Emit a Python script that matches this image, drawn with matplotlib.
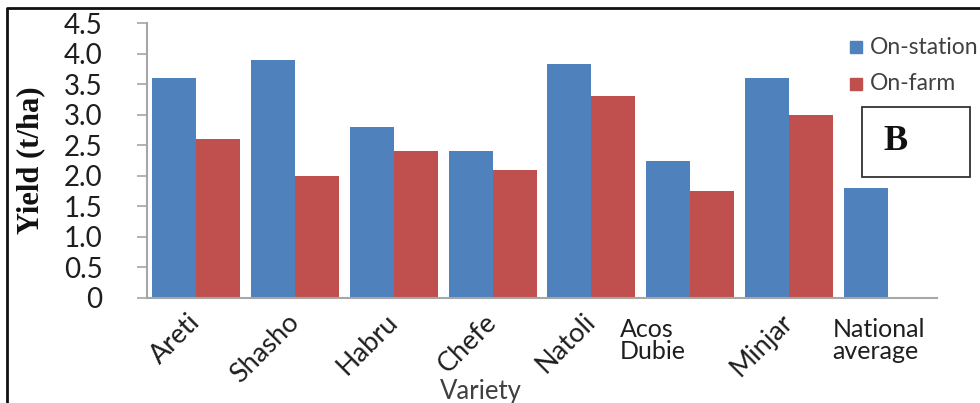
import numpy as np
import matplotlib
matplotlib.use("Agg")
import matplotlib.pyplot as plt
from matplotlib.lines import Line2D
from matplotlib.patches import Rectangle

varieties = ["Areti", "Shasho", "Habru", "Chefe", "Natoli", "Acos\nDubie", "Minjar", "National\naverage"]
rotated = [True, True, True, True, True, False, True, False]
on_station = [3.6, 3.9, 2.8, 2.4, 3.83, 2.25, 3.6, 1.8]
on_farm = [2.6, 2.0, 2.4, 2.1, 3.3, 1.75, 3.0, np.nan]
yticks = [0, 0.5, 1.0, 1.5, 2.0, 2.5, 3.0, 3.5, 4.0, 4.5]
ytick_labels = ["0", "0.5", "1.0", "1.5", "2.0", "2.5", "3.0", "3.5", "4.0", "4.5"]

BLUE = "#4F81BD"
RED = "#C0504D"
TEXT = "#1E1E1E"
AXIS = "#A6A6A6"
SANS = "Lato"
SERIF = "Liberation Serif"

W, H = 980, 403
fig = plt.figure(figsize=(W / 100, H / 100), dpi=100)
ax = fig.add_axes([147 / W, 1 - 298 / H, (937 - 147) / W, (298 - 23) / H])

x = np.arange(len(varieties))
bw = 0.445
ax.bar(x - bw / 2, on_station, width=bw, color=BLUE, label="On-station")
ax.bar(x + bw / 2, on_farm, width=bw, color=RED, label="On-farm")

ax.set_xlim(-0.5, len(varieties) - 0.5)
ax.set_ylim(0, 4.5)
ax.set_yticks(yticks)
ax.set_yticklabels(ytick_labels, fontsize=20, color=TEXT, family=SANS)
ax.tick_params(axis="y", direction="out", length=7, width=1.2, color=AXIS, pad=25)
ax.set_xticks([])
for s in ["top", "right"]:
    ax.spines[s].set_visible(False)
for s in ["left", "bottom"]:
    ax.spines[s].set_color(AXIS)
    ax.spines[s].set_linewidth(1.5)

# category labels: most are slanted, two are stacked horizontally
for i, (name, rot) in enumerate(zip(varieties, rotated)):
    if rot:
        ax.annotate(name, xy=(i, 0), xycoords=("data", "axes fraction"),
                    xytext=(0, -20), textcoords="offset pixels",
                    rotation=45, rotation_mode="anchor", ha="right", va="center",
                    fontsize=19.5, color=TEXT, family=SANS)
    else:
        dx = -70 if i == 5 else -55
        ax.annotate(name, xy=(i, 0), xycoords=("data", "axes fraction"),
                    xytext=(dx, -20), textcoords="offset pixels",
                    ha="left", va="top", multialignment="left",
                    fontsize=18, color=TEXT, family=SANS, linespacing=0.95)

fig.text(481 / W, 1 - 392 / H, "Variety", ha="center", va="center",
         fontsize=18.5, color="#404040", family=SANS)
fig.text(31 / W, 1 - 160 / H, "Yield (t/ha)", rotation=90, ha="center", va="center",
         fontsize=22, fontweight="bold", color="#111111", family=SERIF)

# legend entries
for yy, col, lab in [(47, BLUE, "On-station"), (84, RED, "On-farm")]:
    fig.patches.append(Rectangle((850 / W, 1 - (yy + 6) / H), 12 / W, 12 / H,
                                 transform=fig.transFigure, color=col))
    fig.text(870 / W, 1 - yy / H, lab, ha="left", va="center",
             fontsize=16.5, color="#404040", family=SANS)

# panel letter box
fig.patches.append(Rectangle((862 / W, 1 - 177 / H), 108 / W, 70 / H,
                             transform=fig.transFigure, fill=False,
                             edgecolor="#333333", linewidth=1.3))
fig.text(895 / W, 1 - 141 / H, "B", ha="center", va="center",
         fontsize=26, fontweight="bold", color="#111111", family=SERIF)

# outer frame (left and top edges)
fig.lines.append(Line2D([7 / W, 7 / W, 1.0], [0.0, 1 - 8 / H, 1 - 8 / H],
                        transform=fig.transFigure, color="#111111", linewidth=2))

fig.savefig("out.png", dpi=100)
